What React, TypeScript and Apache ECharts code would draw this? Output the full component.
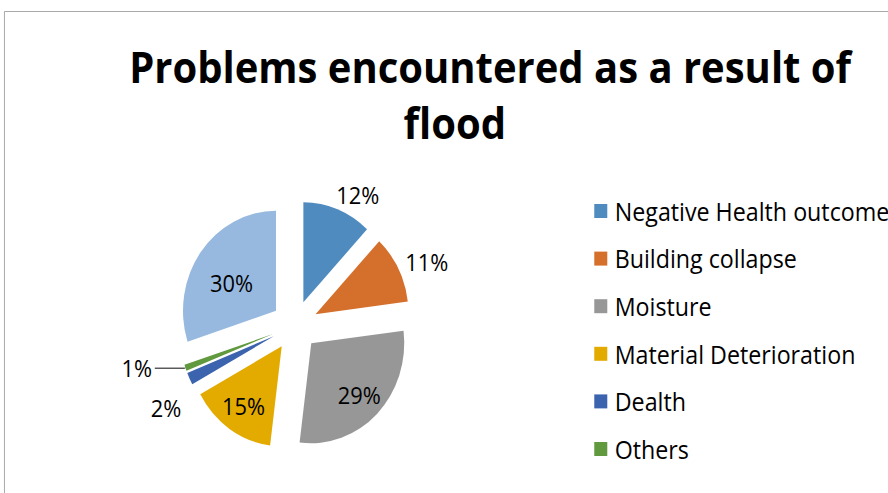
import React, { useEffect, useRef } from "react";
import * as echarts from "echarts";

const titleLines = ["Problems encountered as a result of", "flood"];
const categories = [
  "Negative Health outcome",
  "Building collapse",
  "Moisture",
  "Material Deterioration",
  "Dealth",
  "Others",
  "Unspecified",
];
const values = [12, 11, 29, 15, 2, 1, 30];
const legendNames = categories.slice(0, 6);
const colors = ["#4F8BBF", "#D5702C", "#979797", "#E3AA00", "#3C64AE", "#60993E", "#97B9DF"];

const FONT = "'Open Sans', Lato, sans-serif";
// the reference picture is horizontally compressed; draw wider and squeeze
const SQUEEZE = 0.93;
const W = Math.round(888 / SQUEEZE);

export default function App() {
  const ref = useRef<HTMLDivElement>(null);
  useEffect(() => {
    if (!ref.current) return;
    const chart = echarts.init(ref.current, undefined, { renderer: "svg" });

    const labelCfg: any[] = [
      { label: { position: "outside", distanceToLabelLine: -7 }, labelLine: { show: false, length: 15, length2: 0 } },
      { label: { position: "outside", distanceToLabelLine: -5 }, labelLine: { show: false, length: 14, length2: 0 } },
      { label: { show: false }, labelLine: { show: false } },
      { label: { show: false }, labelLine: { show: false } },
      { label: { position: "outside", distanceToLabelLine: 0 }, labelLine: { show: false, length: 10, length2: 0 } },
      { label: { position: "outside", distanceToLabelLine: 3 }, labelLine: { show: true, length: 1, length2: 32, lineStyle: { color: "#000", width: 1 } } },
      { label: { show: false }, labelLine: { show: false } },
    ];

    const mainData = categories.map((name, i) => ({
      name,
      value: values[i],
      selected: true,
      itemStyle: { color: colors[i] },
      ...labelCfg[i],
    }));

    const overlay = (shown: number[], inner: number, dy: number) => ({
      type: "pie",
      center: [317, 325.5],
      radius: [inner, 100],
      startAngle: 90,
      clockwise: true,
      selectedMode: "multiple",
      selectedOffset: 25,
      silent: true,
      legendHoverLink: false,
      avoidLabelOverlap: false,
      emphasis: { disabled: true },
      itemStyle: { color: "rgba(0,0,0,0)" },
      select: { itemStyle: { color: "rgba(0,0,0,0)", borderWidth: 0 } },
      label: {
        position: "inside",
        fontFamily: FONT,
        fontSize: 23.5,
        color: "#000",
        formatter: (p: any) => `${p.value}%`,
      },
      labelLayout: () => ({ dy }),
      labelLine: { show: false },
      data: categories.map((name, i) => ({
        name,
        value: values[i],
        selected: true,
        itemStyle: { color: "rgba(0,0,0,0)" },
        label: { show: shown.includes(i) },
      })),
    });

    chart.setOption({
      animation: false,
      title: [
        {
          text: titleLines[0],
          left: 527,
          top: 41,
          padding: 0,
          textAlign: "center",
          textStyle: { fontFamily: FONT, fontSize: 43, lineHeight: 50, fontWeight: "bold", color: "#000" },
        },
        {
          text: titleLines[1],
          left: 489,
          top: 97,
          padding: 0,
          textAlign: "center",
          textStyle: { fontFamily: FONT, fontSize: 43, lineHeight: 50, fontWeight: "bold", color: "#000" },
        },
      ],
      legend: {
        data: legendNames,
        orient: "vertical",
        left: 639,
        top: 192,
        padding: 0,
        icon: "rect",
        itemWidth: 14,
        itemHeight: 14,
        itemGap: 9.6,
        selectedMode: false,
        textStyle: { fontFamily: FONT, fontSize: 25, lineHeight: 24, color: "#000", padding: [14, 0, 0, 3] },
      },
      graphic: [
        {
          type: "rect",
          shape: { x: 4.8, y: 11.5, width: 1200, height: 1000 },
          style: { fill: "none", stroke: "#a6a6a6", lineWidth: 1 },
          silent: true,
        },
      ],
      series: [
        {
          type: "pie",
          center: [317, 325.5],
          radius: 100,
          startAngle: 90,
          clockwise: true,
          selectedMode: "multiple",
          selectedOffset: 25,
          avoidLabelOverlap: false,
          emphasis: { disabled: true },
          select: { itemStyle: { borderWidth: 0 } },
          label: {
            fontFamily: FONT,
            fontSize: 23.5,
            color: "#000",
            formatter: (p: any) => `${p.value}%`,
          },
          labelLayout: (p: any) => (p.dataIndex === 4 ? { dy: 25 } : {}),
          data: mainData,
        },
        overlay([6], 12, 7),
        overlay([2, 3], 40, 0),
      ],
    });
    return () => chart.dispose();
  }, []);

  return (
    <div
      ref={ref}
      style={{
        position: "absolute",
        left: 0,
        top: 0,
        width: W,
        height: 493,
        background: "#fff",
        transform: `scaleX(${SQUEEZE})`,
        transformOrigin: "0 0",
      }}
    />
  );
}
